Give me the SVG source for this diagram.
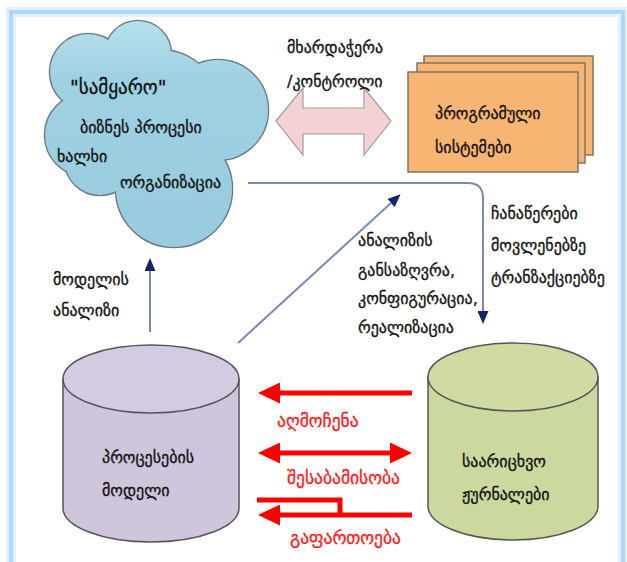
<svg xmlns="http://www.w3.org/2000/svg" width="627" height="562" viewBox="0 0 627 562">
<defs>
<style>
text{font-family:"DejaVu Sans","Noto Sans",sans-serif;font-size:16px;fill:#111;stroke:#111;stroke-width:0.3}
.red{fill:#ff1a1a;stroke:#ff1a1a;font-size:17.5px}
.conn{fill:none;stroke:#7b89b9;stroke-width:2}
.rarr{fill:none;stroke:#ff0000;stroke-width:5}
.cyl{stroke:#555;stroke-width:1.5}
.box{fill:#f7b574;stroke:#7f7466;stroke-width:1.5}
</style>
<marker id="nav" markerUnits="userSpaceOnUse" markerWidth="13" markerHeight="11" refX="0" refY="5.5" orient="auto">
<path d="M0,0 L13,5.5 L0,11 z" fill="#13246a"/>
</marker>
<marker id="red" markerUnits="userSpaceOnUse" markerWidth="22" markerHeight="21" refX="0" refY="10.5" orient="auto-start-reverse">
<path d="M0,0 L22,10.5 L0,21 z" fill="#ff0000"/>
</marker>
<linearGradient id="cg" gradientUnits="userSpaceOnUse" x1="0" y1="20" x2="0" y2="250">
<stop offset="0" stop-color="#b8e0ec"/>
<stop offset="0.25" stop-color="#9fd1e2"/>
<stop offset="1" stop-color="#97cbdd"/>
</linearGradient>
</defs>
<rect width="627" height="562" fill="#fff"/>
<g id="frame">
<rect x="11" y="12" width="612" height="570" fill="none" stroke="#e3f1ff" stroke-width="10"/>
<rect x="11" y="12" width="612" height="570" fill="none" stroke="#aed6ff" stroke-width="4"/>
</g>
<g id="cloud">
<g fill="url(#cg)" stroke="#6a7a80" stroke-width="2.6">
<circle cx="88" cy="72" r="38"/>
<circle cx="138" cy="54" r="33"/>
<circle cx="218" cy="110" r="50"/>
<circle cx="86" cy="135" r="41"/>
<circle cx="100" cy="160" r="35"/>
<circle cx="174" cy="189" r="58"/>
<circle cx="160" cy="110" r="60"/>
</g>
<g fill="url(#cg)">
<circle cx="88" cy="72" r="38"/>
<circle cx="138" cy="54" r="33"/>
<circle cx="218" cy="110" r="50"/>
<circle cx="86" cy="135" r="41"/>
<circle cx="100" cy="160" r="35"/>
<circle cx="174" cy="189" r="58"/>
<circle cx="160" cy="110" r="60"/>
</g>
<text x="70" y="94" style="font-size:19px">"სამყარო"</text>
<text x="80" y="133">ბიზნეს პროცესი</text>
<text x="57" y="162">ხალხი</text>
<text x="120" y="188">ორგანიზაცია</text>
</g>
<g id="support">
<path d="M276,121 L303,88 L303,108 L364,108 L364,88 L391,121 L364,155 L364,134 L303,134 L303,155 Z" fill="#f2d2d2" stroke="#a89a9a" stroke-width="1.2"/>
<text x="287" y="53">მხარდაჭერა</text>
<text x="287" y="87">/კონტროლი</text>
</g>
<g id="software">
<rect class="box" x="424" y="56" width="169" height="99"/>
<rect class="box" x="417" y="63" width="168" height="100"/>
<rect class="box" x="408" y="72" width="170" height="100"/>
<text x="435" y="119">პროგრამული</text>
<text x="435" y="153">სისტემები</text>
</g>
<g id="process-model">
<path class="cyl" d="M63,379 L63,508 A88,34 0 0 0 239,508 L239,379 Z" fill="#cfc6de"/>
<ellipse class="cyl" cx="151" cy="379" rx="88" ry="34" fill="#d3cbe2"/>
<text x="102" y="463">პროცესების</text>
<text x="102" y="496">მოდელი</text>
</g>
<g id="event-logs">
<path class="cyl" d="M428,377 L428,506 A85,34 0 0 0 598,506 L598,377 Z" fill="#ccd99e"/>
<ellipse class="cyl" cx="513" cy="377" rx="85" ry="34" fill="#cfdba3"/>
<text x="462" y="467">საარიცხვო</text>
<text x="462" y="500">ჟურნალები</text>
</g>
<g id="connectors">
<path class="conn" d="M248,183 H468 Q483,183 483,198 V311" marker-end="url(#nav)"/>
<path class="conn" d="M238,343 L391,203" marker-end="url(#nav)"/>
<path class="conn" d="M150,332 V271" marker-end="url(#nav)"/>
<path class="rarr" d="M412,393 H280" marker-end="url(#red)"/>
<path class="rarr" d="M280,453 H390" marker-start="url(#red)" marker-end="url(#red)"/>
<path class="rarr" d="M257,500 H340 V515"/>
<path class="rarr" d="M412,515 H280" marker-end="url(#red)"/>
</g>
<g id="labels">
<text x="53" y="285">მოდელის</text>
<text x="53" y="316">ანალიზი</text>
<text x="358" y="246">ანალიზის</text>
<text x="358" y="276">განსაზღვრა,</text>
<text x="358" y="304">კონფიგურაცია,</text>
<text x="358" y="333">რეალიზაცია</text>
<text x="491" y="219">ჩანაწერები</text>
<text x="491" y="251">მოვლენებზე</text>
<text x="491" y="283">ტრანზაქციებზე</text>
<text class="red" x="277" y="427">აღმოჩენა</text>
<text class="red" x="287" y="484">შესაბამისობა</text>
<text class="red" x="290" y="544">გაფართოება</text>
</g>
</svg>
